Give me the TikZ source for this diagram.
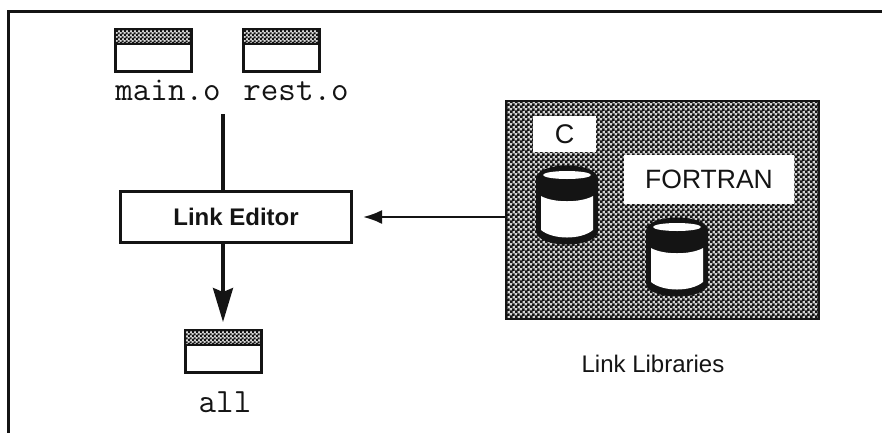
\documentclass[tikz,border=0pt]{standalone}
\usepackage{fontspec}
\setmainfont{Liberation Sans}
\usetikzlibrary{patterns,arrows.meta}
\pgfdeclarepatternformonly{chkbig}{\pgfpointorigin}{\pgfqpoint{5pt}{5pt}}{\pgfqpoint{5pt}{5pt}}{%
  \pgfpathrectangle{\pgfqpoint{0pt}{0pt}}{\pgfqpoint{3.1pt}{3.1pt}}%
  \pgfpathrectangle{\pgfqpoint{2.5pt}{2.5pt}}{\pgfqpoint{3.1pt}{3.1pt}}%
  \pgfusepath{fill}}
\pgfdeclarepatternformonly{chksmall}{\pgfpointorigin}{\pgfqpoint{4pt}{4pt}}{\pgfqpoint{4pt}{4pt}}{%
  \pgfpathrectangle{\pgfqpoint{0pt}{0pt}}{\pgfqpoint{2.4pt}{2.4pt}}%
  \pgfpathrectangle{\pgfqpoint{2pt}{2pt}}{\pgfqpoint{2.4pt}{2.4pt}}%
  \pgfusepath{fill}}
\definecolor{ink}{gray}{0.08}
\tikzset{
  x=1pt,y=-1pt,
  frameline/.style={draw=ink,line width=3pt},
  filebody/.style={draw=ink,fill=white,line width=3pt},
  filehead/.style={draw=ink,line width=2pt,preaction={fill=gray!30},pattern=chksmall,pattern color=ink},
  monolabel/.style={font=\fontsize{34}{34}\selectfont\ttfamily,inner sep=0pt,text=ink},
  labelbox/.style={fill=white,inner sep=0pt,text=ink},
  flow/.style={draw=ink,line width=3.2pt},
}
\newcommand{\fileicon}[2]{%
  \draw[filebody] (#1,#2) rectangle ++(76,42);
  \draw[filehead] (#1,#2) rectangle ++(76,15);
}
\newcommand{\cyl}[2]{%
  \fill[ink] (#1-31,#2+13) .. controls (#1-31,#2-5) and (#1+31,#2-5) .. (#1+31,#2+13)
     -- (#1+31,#2+65) .. controls (#1+31,#2+83) and (#1-31,#2+83) .. (#1-31,#2+65) -- cycle;
  \fill[white] (#1-26,#2+30) .. controls (#1-14,#2+37) and (#1+14,#2+37) .. (#1+26,#2+30)
     -- (#1+26,#2+64) .. controls (#1+14,#2+74) and (#1-14,#2+74) .. (#1-26,#2+64) -- cycle;
  \fill[white] (#1,#2+9) ellipse [x radius=24,y radius=4];
}
\begin{document}
\begin{tikzpicture}
\useasboundingbox (0,0) rectangle (882,432);
\fill[white] (0,0) rectangle (882,432);
\draw[frameline] (8.5,436) -- (8.5,11) -- (886,11);

\fileicon{115}{29}
\fileicon{243}{29}
\fileicon{185}{330}
\node[monolabel,anchor=base] (maino) at (168,100) {main.o};
\node[monolabel,anchor=base] (resto) at (296,100) {rest.o};
\node[monolabel,anchor=base] (allf) at (225,412) {all};

\node[draw=ink,fill=white,line width=2.6pt,minimum width=231pt,minimum height=51pt,inner sep=0pt,
      font=\fontsize{24}{24}\selectfont\bfseries,text=ink] (link) at (236,217) {Link Editor\hspace{16pt}};

\coordinate (linetop) at (223,114);
\coordinate (linkbot) at (223,243);
\coordinate (allin) at (223,322);
\draw[flow] (linetop) -- (linetop |- link.north);
\draw[flow,-{Stealth[length=34pt,width=20pt,inset=4pt]}] (linkbot) -- (allin);

% library panel
\fill[gray!35] (506,101) rectangle (819,319);
\node[draw=ink,line width=2pt,pattern=chkbig,pattern color=ink,minimum width=313pt,minimum height=218pt,inner sep=0pt] (panel) at (662.5,210) {};

\node[labelbox,minimum width=63pt,minimum height=36pt,font=\fontsize{27}{27}\selectfont] (cbox) at (564.5,134) {C};
\node[labelbox,minimum width=170pt,minimum height=49pt,font=\fontsize{26.5}{26.5}\selectfont] (fbox) at (709,179.5) {FORTRAN};
\cyl{567}{166}
\cyl{677}{218}

\coordinate (arrowtip) at (363,217);
\draw[draw=ink,line width=2.4pt,-{Latex[length=19pt,width=14pt]}] (panel.west |- link) -- (arrowtip);
\node[font=\fontsize{24}{24}\selectfont,inner sep=0pt,text=ink,anchor=base] (liblabel) at (653,372) {Link Libraries};
\end{tikzpicture}
\end{document}
